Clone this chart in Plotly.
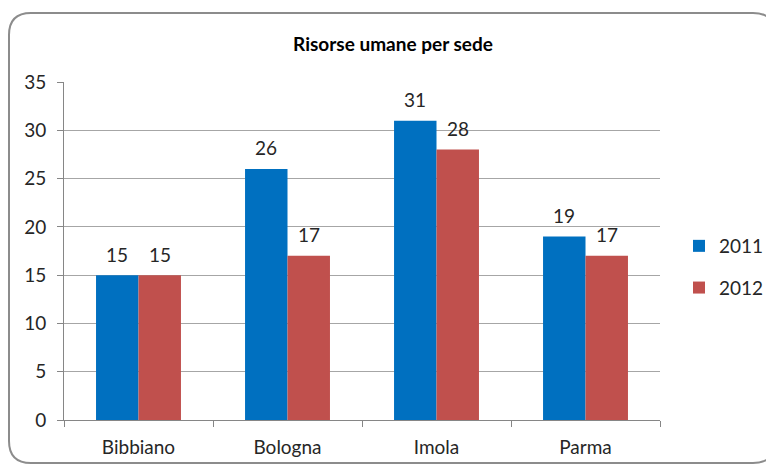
import plotly.graph_objects as go

categories = ["Bibbiano", "Bologna", "Imola", "Parma"]
series_names = ["2011", "2012"]
values_2011 = [15, 26, 31, 19]
values_2012 = [15, 17, 28, 17]
y_ticks = [0, 5, 10, 15, 20, 25, 30, 35]

W, H = 766, 466
ml, mr, mt, mb = 64, 106, 82, 46
pw = W - ml - mr
ph = H - mt - mb

def px(x):
    return (x - ml) / pw

def py(y):
    return (H - mb - y) / ph

font_family = "Lato, 'Open Sans', Arial, sans-serif"
colors = ["#0070C0", "#C0504D"]
bargap = 0.43
bar_w = (1 - bargap) / 2

fig = go.Figure()
annotations = []
for k, (name, vals, c) in enumerate(zip(series_names, [values_2011, values_2012], colors)):
    fig.add_trace(go.Bar(
        x=categories, y=vals, name=name, legendgroup=name,
        marker=dict(color=c, line=dict(width=0)),
    ))
    off = (k - 0.5) * bar_w
    for i, v in enumerate(vals):
        annotations.append(dict(
            x=i + off, y=v, xref="x", yref="y", text=str(v), showarrow=False,
            yanchor="middle", yshift=21,
            font=dict(size=19, color="#262626", family=font_family)))

# rounded border
x0, x1, y0, y1, r = 9, 775, 13, 463, 22
path = (f"M {px(x0)},{py(y0 + r)} "
        f"Q {px(x0)},{py(y0)} {px(x0 + r)},{py(y0)} "
        f"L {px(x1 - r)},{py(y0)} "
        f"Q {px(x1)},{py(y0)} {px(x1)},{py(y0 + r)} "
        f"L {px(x1)},{py(y1 - r)} "
        f"Q {px(x1)},{py(y1)} {px(x1 - r)},{py(y1)} "
        f"L {px(x0 + r)},{py(y1)} "
        f"Q {px(x0)},{py(y1)} {px(x0)},{py(y1 - r)} Z")

fig.update_layout(
    width=W, height=H,
    margin=dict(l=ml, r=mr, t=mt, b=mb, autoexpand=False),
    paper_bgcolor="white", plot_bgcolor="white",
    barmode="group", bargap=bargap, bargroupgap=0,
    font=dict(family=font_family, size=19, color="#262626"),
    title=dict(text="<b>Risorse umane per sede</b>", xref="container",
               x=393 / W, xanchor="center",
               y=1 - 44 / H, yanchor="middle",
               font=dict(size=19, color="#000000", family=font_family)),
    legend=dict(x=px(679), y=py(267), xanchor="left", yanchor="middle",
                font=dict(size=19, color="#262626"), itemwidth=30,
                tracegroupgap=14, bgcolor="rgba(0,0,0,0)"),
    annotations=annotations,
    shapes=[dict(type="path", path=path, xref="paper", yref="paper",
                 line=dict(color="#8C8C8C", width=2), layer="below")],
    xaxis=dict(showline=True, linecolor="#868686", linewidth=1,
               ticks="outside", ticklen=6, tickcolor="#868686",
               tickson="boundaries", showgrid=False, ticklabelstandoff=10,
               tickfont=dict(size=19, color="#262626")),
    yaxis=dict(range=[0, 35], tickvals=y_ticks, showline=True,
               linecolor="#868686", linewidth=1, ticks="outside", ticklen=6,
               tickcolor="#868686", showgrid=True, gridcolor="#A6A6A6",
               gridwidth=1, zeroline=False, ticklabelstandoff=7,
               tickfont=dict(size=19, color="#262626")),
)

fig.write_html("out.html", config={"displayModeBar": False},
               post_script="document.body.style.margin='0';")
